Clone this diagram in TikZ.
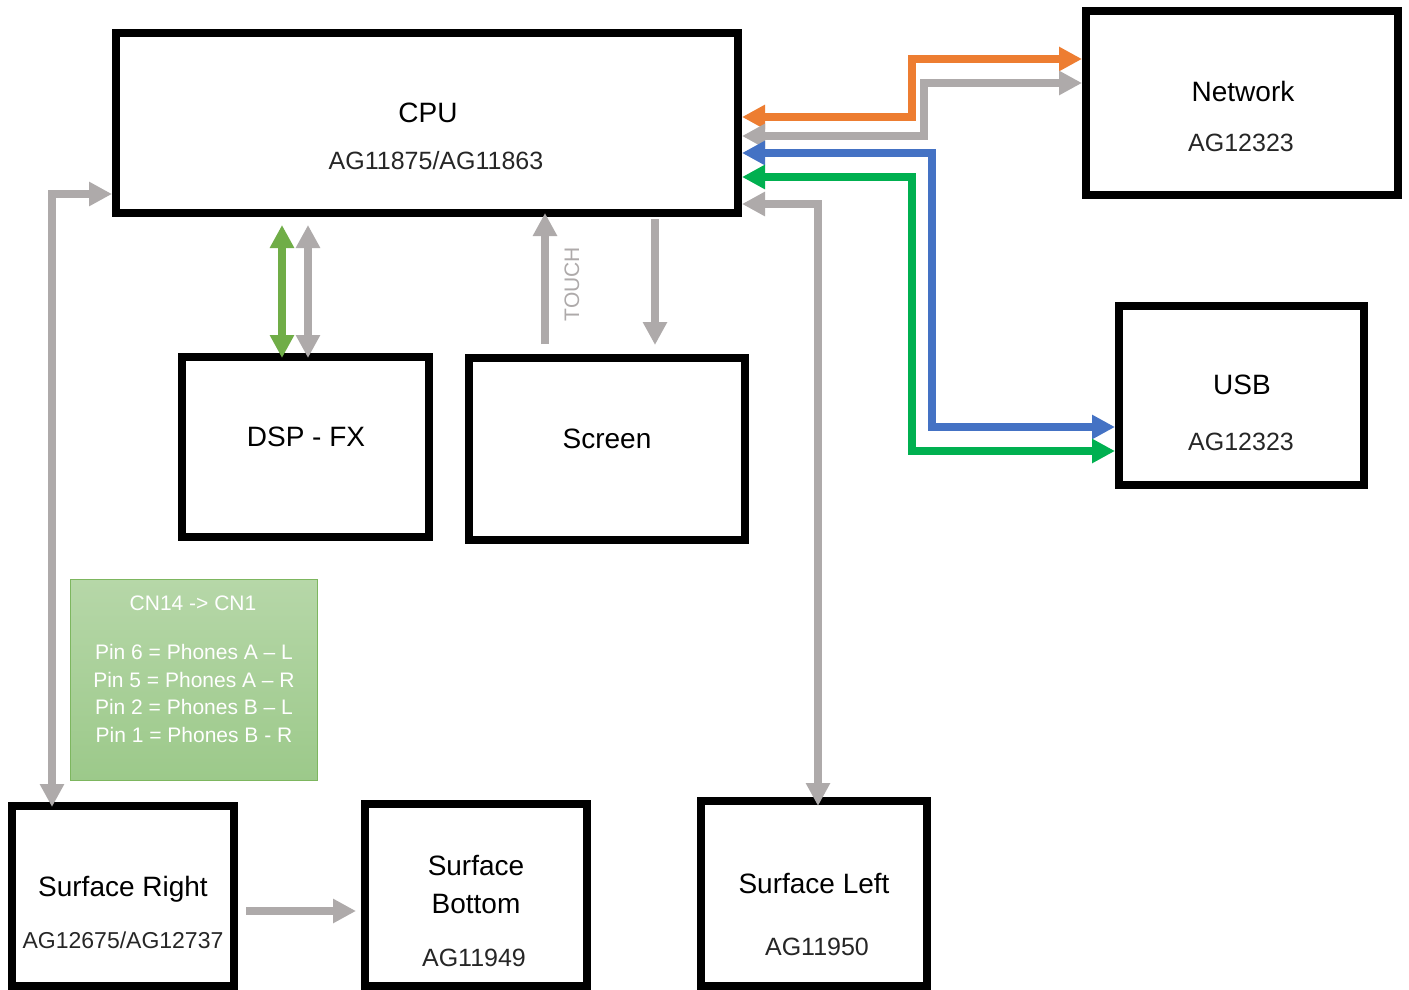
\documentclass[tikz,border=0pt]{standalone}
\usepackage{fontspec}
\setmainfont{Liberation Sans}
\usetikzlibrary{arrows.meta}
\definecolor{cOrange}{HTML}{ED7D31}
\definecolor{cGray}{HTML}{AEAAAA}
\definecolor{cBlue}{HTML}{4472C4}
\definecolor{cGreen}{HTML}{00B050}
\definecolor{cLGreen}{HTML}{70AD47}
\definecolor{noteTop}{HTML}{B6D7A8}
\definecolor{noteBot}{HTML}{9CC98A}
\definecolor{noteEdge}{HTML}{7DB65F}
\tikzset{
  tri/.tip={Triangle[length=23pt,width=23pt]},
  blk/.style={draw=black, line width=8pt, inner sep=0pt},
  conn/.style={line width=8pt, tri-tri},
  conn1/.style={line width=8pt, -tri},
  mainlbl/.style={font=\fontsize{28}{38}\selectfont, anchor=base, inner sep=0pt, align=center},
  sublbl/.style={font=\fontsize{25}{30}\selectfont, anchor=base, inner sep=0pt, text=black!85},
  notelbl/.style={font=\fontsize{21}{27.6}\selectfont, anchor=base, inner sep=0pt, text=white, align=center},
}
\begin{document}
\begin{tikzpicture}[x=1pt,y=-1pt]
\useasboundingbox[fill=white] (0,0) rectangle (1409,990);

% boxes
\node[blk, minimum width=622pt, minimum height=180pt] (cpu) at (427,123) {};
\node[blk, minimum width=312pt, minimum height=184pt] (netw) at (1242,103) {};
\node[blk, minimum width=245pt, minimum height=179pt] (usb) at (1241.5,395.5) {};
\node[blk, minimum width=247pt, minimum height=180pt] (dsp) at (305.5,447) {};
\node[blk, minimum width=276pt, minimum height=182pt] (screen) at (607,449) {};
\node[blk, minimum width=222pt, minimum height=180pt] (sright) at (123,896) {};
\node[blk, minimum width=222pt, minimum height=182pt] (sbottom) at (476,895) {};
\node[blk, minimum width=226pt, minimum height=185pt] (sleft) at (814,893.5) {};

% note box
\node[draw=noteEdge, line width=1.5pt, top color=noteTop, bottom color=noteBot,
      minimum width=247pt, minimum height=201pt, inner sep=0pt] (note) at (194,680) {};

% labels
\node[mainlbl] (cpuT) at (428,122) {CPU};
\node[sublbl] (cpuS) at (436,169) {AG11875/AG11863};
\node[mainlbl] (netT) at (1243,102) {Network};
\node[sublbl] (netS) at (1241,151) {AG12323};
\node[mainlbl] (usbT) at (1242,394) {USB};
\node[sublbl] (usbS) at (1241,450) {AG12323};
\node[mainlbl] (dspT) at (306,446) {DSP - FX};
\node[mainlbl] (scrT) at (607,448) {Screen};
\node[mainlbl] (srT) at (123,896) {Surface Right};
\node[sublbl, font=\fontsize{23}{28}\selectfont] (srS) at (123,948) {AG12675/AG12737};
\node[mainlbl] (sbT) at (476,913) {Surface\\Bottom};
\node[sublbl] (sbS) at (474,966) {AG11949};
\node[mainlbl] (slT) at (814,893) {Surface Left};
\node[sublbl] (slS) at (817,955) {AG11950};
\node[notelbl] (noteT) at (193,610.5) {CN14 -> CN1};
\node[notelbl] (noteP) at (194,742.5) {Pin 6 = Phones A – L\\Pin 5 = Phones A – R\\Pin 2 = Phones B – L\\Pin 1 = Phones B - R};
\node[font=\fontsize{21}{25}\selectfont, text=cGray, rotate=90, inner sep=0pt] (touch) at (572,284) {TOUCH};

% connectors CPU <-> Network / USB
\draw[conn, cOrange] (cpu.east |- 0,117) -- (912,117) -- (912,59) -- (netw.west |- 0,59);
\draw[conn, cGray] (cpu.east |- 0,136) -- (924,136) -- (924,83) -- (netw.west |- 0,83);
\draw[conn, cBlue] (cpu.east |- 0,153) -- (932,153) -- (932,427) -- (usb.west |- 0,427);
\draw[conn, cGreen] (cpu.east |- 0,177) -- (912,177) -- (912,451) -- (usb.west |- 0,451);
% CPU <-> Surface Left
\draw[conn, cGray] (cpu.east |- 0,204) -- (818,204) -- ([yshift=-9pt]sleft.north -| 818,0);
% CPU <-> Surface Right
\draw[conn, cGray] ([yshift=-5pt]sright.north -| 52,0) -- (52,194) -- (cpu.west |- 0,194);
% CPU <-> DSP
\draw[conn, cLGreen] ([yshift=-8pt]cpu.south -| 282,0) -- ([yshift=-5pt]dsp.north -| 282,0);
\draw[conn, cGray] ([yshift=-8pt]cpu.south -| 308,0) -- ([yshift=-5pt]dsp.north -| 308,0);
% Screen
\draw[conn1, cGray] ([yshift=10pt]screen.north -| 545,0) -- ([yshift=4pt]cpu.south -| 545,0);
\draw[conn1, cGray] ([yshift=-2pt]cpu.south -| 655,0) -- ([yshift=9pt]screen.north -| 655,0);
% Surface Right -> Surface Bottom
\draw[conn1, cGray] ([xshift=8pt]sright.east |- 0,911) -- ([xshift=-5pt]sbottom.west |- 0,911);
\end{tikzpicture}
\end{document}
